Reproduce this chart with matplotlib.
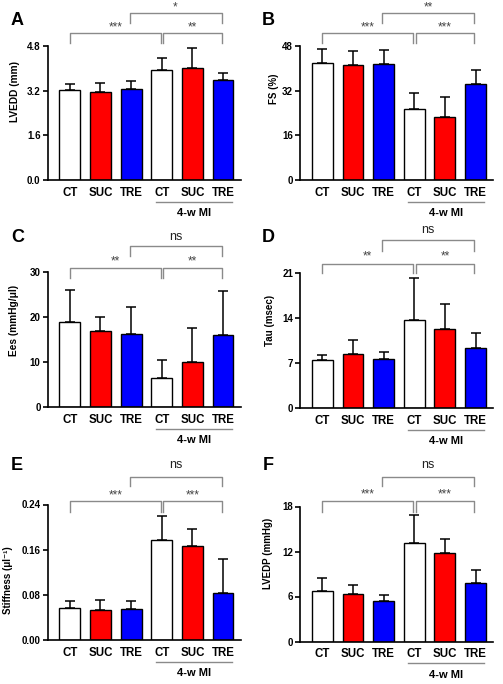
import matplotlib
matplotlib.use('Agg')
import matplotlib.pyplot as plt
from matplotlib import font_manager as fm
import matplotlib.transforms as mtransforms


def has_font(name):
    try:
        fm.findfont(fm.FontProperties(family=name), fallback_to_default=False)
        return True
    except Exception:
        return False


NARROW = 'Liberation Sans Narrow' if has_font('Liberation Sans Narrow') else 'Liberation Sans'
plt.rcParams['font.family'] = [NARROW, 'DejaVu Sans']
WIDE = ['Liberation Sans', 'DejaVu Sans']

# ---------------- data ----------------
groups = ['CT', 'SUC', 'TRE', 'CT', 'SUC', 'TRE']
group_label = '4-w MI'
bar_colors = ['white', '#ff0000', '#0000ff', 'white', '#ff0000', '#0000ff']

lvedd_mean = [3.24, 3.15, 3.26, 3.95, 4.02, 3.57]
lvedd_err = [0.20, 0.31, 0.29, 0.43, 0.71, 0.26]
fs_mean = [41.8, 41.2, 41.6, 25.4, 22.6, 34.3]
fs_err = [5.1, 5.0, 5.0, 5.6, 7.3, 5.1]
ees_mean = [18.8, 16.8, 16.2, 6.55, 9.9, 15.9]
ees_err = [7.3, 3.2, 6.1, 3.95, 7.7, 9.9]
tau_mean = [7.4, 8.44, 7.7, 13.7, 12.25, 9.33]
tau_err = [0.9, 2.16, 1.0, 6.5, 4.0, 2.37]
stiff_mean = [0.056, 0.053, 0.055, 0.178, 0.166, 0.084]
stiff_err = [0.013, 0.018, 0.014, 0.042, 0.031, 0.060]
lvedp_mean = [6.67, 6.40, 5.42, 13.17, 11.78, 7.79]
lvedp_err = [1.75, 1.20, 0.80, 3.73, 1.92, 1.71]

panel_letters = ['A', 'B', 'C', 'D', 'E', 'F']
y_labels = ['LVEDD (mm)', 'FS (%)', 'Ees (mmHg/μl)', 'Tau (msec)',
            'Stiffness (μl⁻¹)', 'LVEDP (mmHg)']
y_ticks = [[0, 1.6, 3.2, 4.8], [0, 16, 32, 48], [0, 10, 20, 30],
           [0, 7, 14, 21], [0, 0.08, 0.16, 0.24], [0, 6, 12, 18]]
y_ticklabels = [['0.0', '1.6', '3.2', '4.8'], ['0', '16', '32', '48'],
                ['0', '10', '20', '30'], ['0', '7', '14', '21'],
                ['0.00', '0.08', '0.16', '0.24'], ['0', '6', '12', '18']]
sig_left = ['***', '***', '**', '**', '***', '***']
sig_right = ['**', '***', '**', '**', '***', '***']
sig_upper = ['*', '**', 'ns', 'ns', 'ns', 'ns']

means = [lvedd_mean, fs_mean, ees_mean, tau_mean, stiff_mean, lvedp_mean]
errs = [lvedd_err, fs_err, ees_err, tau_err, stiff_err, lvedp_err]

# ---------------- layout (pixels) ----------------
W, H = 503, 684
AX_W = 193
# left, top, bottom of each axes in pixels
ax_px = [(47.5, 46, 180), (300, 46, 180),
         (47.5, 272, 407), (300, 273, 408),
         (47.5, 504.5, 640), (300, 506.5, 641.5)]
# bracket offsets in px above the top of the axes:
# lower line, lower drop end, upper line, upper drop end, lower label, upper label
br_px = [(12.7, 2.7, 32.7, 22.7, 21, 41),
         (12.7, 2.7, 32.7, 22.7, 21, 41),
         (4, -6, 26, 16, 13.7, 35),
         (9.3, 0, 32.7, 21.7, 19.3, 42.7),
         (3.7, -7.3, 27.7, 18.7, 11.7, 39),
         (6, -5, 29.3, 20.7, 15, 41.7)]
ylab_x = [-0.143, -0.107, -0.148, -0.132, -0.177, -0.141]
ylab_y = [0.66, 0.68, 0.64, 0.65, 0.44, 0.65]
ylab_size = [7.3, 7.0, 7.3, 7.0, 7.0, 7.0]

fig = plt.figure(figsize=(W / 100, H / 100), dpi=100)
x = list(range(len(groups)))
BR_COLOR = '#8a8a8a'

for i in range(6):
    left, top, bottom = ax_px[i]
    h_px = bottom - top
    ax = fig.add_axes([left / W, 1 - bottom / H, AX_W / W, h_px / H])
    ymax = y_ticks[i][-1]
    ax.bar(x, means[i], width=0.68, color=bar_colors, edgecolor='black',
           linewidth=1.0, zorder=2)
    ax.errorbar(x, means[i], yerr=[[0] * 6, errs[i]], fmt='none', ecolor='black',
                elinewidth=1.1, capsize=3.8, capthick=1.1, zorder=1)
    ax.set_xlim(-0.73, 5.57)
    ax.set_ylim(0, ymax)
    for s in ['top', 'right']:
        ax.spines[s].set_visible(False)
    for s in ['left', 'bottom']:
        ax.spines[s].set_linewidth(1.2)
    ax.set_yticks(y_ticks[i])
    ax.set_yticklabels(y_ticklabels[i], fontsize=7, fontweight='bold', family=WIDE)
    ax.tick_params(axis='y', direction='out', length=3.5, width=1.2, pad=1.5)
    ax.set_xticks(x)
    ax.set_xticklabels(groups, fontsize=8.3, fontweight='bold')
    ax.tick_params(axis='x', length=0, pad=5)
    ax.set_ylabel(y_labels[i], fontsize=ylab_size[i], fontweight='bold')
    ax.yaxis.set_label_coords(ylab_x[i], ylab_y[i])

    trans = mtransforms.blended_transform_factory(ax.transData, ax.transAxes)

    def fy(p):
        return 1 + p / h_px

    ll, ld, ul, ud, lt, ut = br_px[i]
    # lower left bracket
    ax.plot([0, 0, 2.96, 2.96], [fy(ld), fy(ll), fy(ll), fy(ld)], color=BR_COLOR,
            lw=1.0, transform=trans, clip_on=False)
    # lower right bracket
    ax.plot([3.05, 3.05, 4.95, 4.95], [fy(ld), fy(ll), fy(ll), fy(ld)], color=BR_COLOR,
            lw=1.0, transform=trans, clip_on=False)
    # upper bracket
    ax.plot([1.95, 1.95, 4.95, 4.95], [fy(ud), fy(ul), fy(ul), fy(ud)], color=BR_COLOR,
            lw=1.0, transform=trans, clip_on=False)
    star_kw = dict(transform=trans, ha='center', va='center', clip_on=False)
    ax.text(1.48, fy(lt) - 0.02, sig_left[i], fontsize=8.5, color='#444444', **star_kw)
    ax.text(4.0, fy(lt) - 0.02, sig_right[i], fontsize=8.5, color='#444444', **star_kw)
    if sig_upper[i] == 'ns':
        ax.text(3.45, fy(ut), sig_upper[i], fontsize=9, color='#222222', **star_kw)
    else:
        ax.text(3.45, fy(ut) - 0.02, sig_upper[i], fontsize=8.5, color='#444444', **star_kw)

    # group line and label
    ax.plot([2.8, 5.28], [-21.7 / h_px] * 2, color=BR_COLOR, lw=1.0,
            transform=trans, clip_on=False)
    ax.text(4.04, -33 / h_px, group_label, transform=trans, ha='center', va='center',
            fontsize=8, fontweight='bold', clip_on=False)

letter_px = [(11, 12), (262, 12), (11, 229), (262, 229), (11, 457), (263, 457)]
for i in range(6):
    lx, ly = letter_px[i]
    fig.text(lx / W, 1 - ly / H, panel_letters[i], fontsize=13, fontweight='bold',
             family=WIDE, ha='left', va='top')

fig.savefig('out.png', dpi=100)
